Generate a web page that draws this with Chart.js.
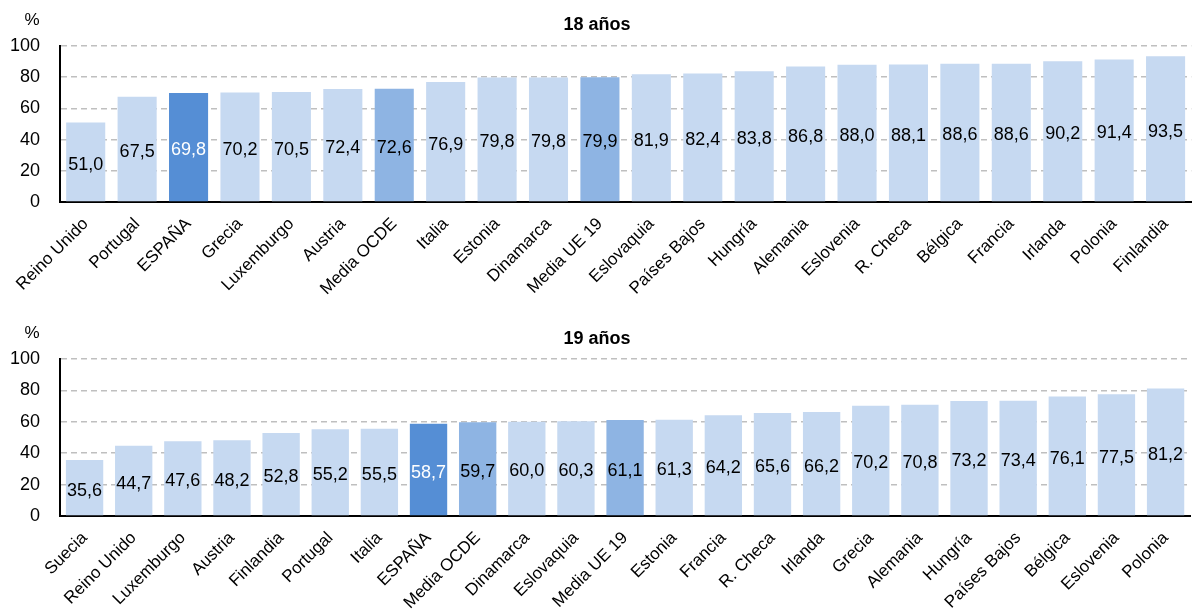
<!DOCTYPE html>
<html>
<head>
<meta charset="utf-8">
<script src="https://cdn.jsdelivr.net/npm/chart.js@4"></script>
<style>
  html, body { margin: 0; padding: 0; background: #fff; }
  .box { width: 1192px; height: 307px; position: relative; }
</style>
</head>
<body>
<div class="box"><canvas id="g18"></canvas></div>
<div class="box"><canvas id="g19"></canvas></div>
<script>
// datos 18 años
const paises18 = ['Reino Unido', 'Portugal', 'ESPAÑA', 'Grecia', 'Luxemburgo', 'Austria', 'Media OCDE', 'Italia', 'Estonia', 'Dinamarca', 'Media UE 19', 'Eslovaquia', 'Países Bajos', 'Hungría', 'Alemania', 'Eslovenia', 'R. Checa', 'Bélgica', 'Francia', 'Irlanda', 'Polonia', 'Finlandia'];
const valores18 = [51.0, 67.5, 69.8, 70.2, 70.5, 72.4, 72.6, 76.9, 79.8, 79.8, 79.9, 81.9, 82.4, 83.8, 86.8, 88.0, 88.1, 88.6, 88.6, 90.2, 91.4, 93.5];

// datos 19 años
const paises19 = ['Suecia', 'Reino Unido', 'Luxemburgo', 'Austria', 'Finlandia', 'Portugal', 'Italia', 'ESPAÑA', 'Media OCDE', 'Dinamarca', 'Eslovaquia', 'Media UE 19', 'Estonia', 'Francia', 'R. Checa', 'Irlanda', 'Grecia', 'Alemania', 'Hungría', 'Países Bajos', 'Bélgica', 'Eslovenia', 'Polonia'];
const valores19 = [35.6, 44.7, 47.6, 48.2, 52.8, 55.2, 55.5, 58.7, 59.7, 60.0, 60.3, 61.1, 61.3, 64.2, 65.6, 66.2, 70.2, 70.8, 73.2, 73.4, 76.1, 77.5, 81.2];

const ticksY = [0, 20, 40, 60, 80, 100];

const fuente = '"Liberation Sans", Arial, sans-serif';

const colorBarra = (p) => {
    if (p == 'ESPAÑA') return '#558ed5';
    if (p.startsWith('Media')) return '#8eb4e3';
    return '#c6d9f1';
};

// etiquetas dentro de las barras + titulo + %
const etiquetas = {
    id: 'etiquetas',
    afterDatasetsDraw(chart, args, opts) {
        const ctx = chart.ctx;
        const meta = chart.getDatasetMeta(0);
        ctx.save();
        ctx.font = '18px ' + fuente;
        ctx.textAlign = 'center';
        ctx.textBaseline = 'middle';
        meta.data.forEach((bar, i) => {
            const v = chart.data.datasets[0].data[i];
            const p = chart.data.labels[i];
            ctx.fillStyle = p == 'ESPAÑA' ? '#ffffff' : '#000000';
            const y = (bar.y + bar.base) / 2 + 3;
            ctx.fillText(v.toFixed(1).replace('.', ','), bar.x, y);
        });
        ctx.font = 'bold 18px ' + fuente;
        ctx.fillStyle = '#000';
        ctx.fillText(opts.titulo, 597, opts.tituloY);
        ctx.font = '17px ' + fuente;
        ctx.fillText('%', 32, opts.pctY);
        ctx.restore();
    }
};

function grafico(id, labels, data, topPad, ejeX, titulo, tituloY, pctY) {
    return new Chart(document.getElementById(id), {
        type: 'bar',
        data: {
            labels: labels,
            datasets: [{
                data: data,
                backgroundColor: labels.map(colorBarra),
                barPercentage: 0.76,
                categoryPercentage: 1
            }]
        },
        options: {
            responsive: true,
            maintainAspectRatio: false,
            animation: false,
            layout: { padding: { top: topPad, right: 0, left: 0, bottom: 0 } },
            plugins: {
                legend: { display: false },
                tooltip: { enabled: false },
                etiquetas: { titulo: titulo, tituloY: tituloY, pctY: pctY }
            },
            scales: {
                x: {
                    afterFit: (s) => { s.height = ejeX; },
                    grid: { display: false, drawTicks: false },
                    border: { color: '#000', width: 2 },
                    ticks: {
                        color: '#000',
                        font: { family: fuente, size: 17 },
                        maxRotation: 45,
                        minRotation: 45,
                        autoSkip: false,
                        padding: 12
                    }
                },
                y: {
                    min: 0,
                    max: 100,
                    afterFit: (s) => { s.width = 60; },
                    afterBuildTicks: (s) => { s.ticks = ticksY.map(v => ({ value: v })); },
                    grid: { color: '#bfbfbf', lineWidth: 1.5, drawTicks: false },
                    border: { color: '#000', width: 2, dash: [6, 4], dashOffset: 0 },
                    ticks: {
                        color: '#000',
                        font: { family: fuente, size: 18 },
                        padding: 20
                    }
                }
            }
        },
        plugins: [etiquetas]
    });
}

const g1 = grafico('g18', paises18, valores18, 46, 105, '18 años', 25, 20);
const g2 = grafico('g19', paises19, valores19, 52, 98, '19 años', 32, 26);
</script>
</body>
</html>
